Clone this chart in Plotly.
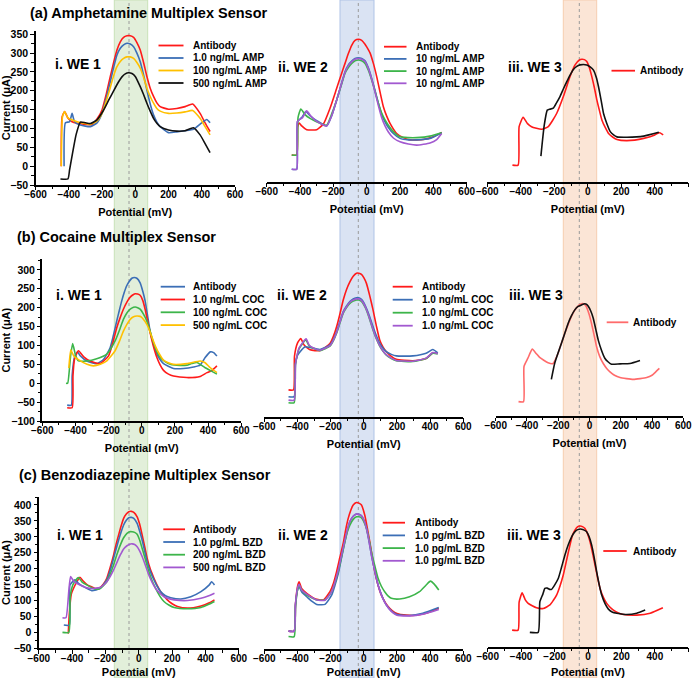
"""Multiplex sensor voltammograms (3 x 3 panels) - Plotly"""

import plotly.graph_objects as go

W, H = 697, 678

RED = "#FF1A1A"
LIGHT_RED = "#FF6B6B"
BLUE = "#3C6FB6"
YELLOW = "#FFC000"
GREEN = "#3DB54A"
PURPLE = "#A259D0"
BLACK = "#111111"

# ---------------- data (potential in mV, current in uA) ----------------
# (a) Amphetamine, WE 1
a1_ab_x = [-445, -440, -425, -405, -380, -350, -300, -260, -230, -200, -175, -150, -130, -110, -90, -70, -50, -30, -10, 10, 30, 50, 70, 90, 110, 130, 150, 200, 250, 300, 345, 390, 420, 450]
a1_ab_y = [0, 130, 145, 128, 118, 114, 111, 110, 125, 149, 190, 238, 275, 308, 330, 342, 346, 346, 342, 328, 308, 275, 238, 207, 185, 168, 158, 151, 153, 158, 165, 140, 115, 92]
a1_amp1_x = [-428, -420, -395, -380, -365, -330, -270, -230, -200, -175, -150, -130, -110, -90, -70, -50, -30, -10, 10, 30, 50, 70, 90, 110, 130, 150, 200, 250, 300, 350, 400, 430, 450]
a1_amp1_y = [0, 115, 118, 140, 118, 109, 105, 115, 140, 180, 224, 262, 295, 313, 322, 326, 324, 317, 300, 277, 242, 202, 165, 136, 117, 105, 89, 91, 94, 98, 115, 124, 115]
a1_amp100_x = [-445, -438, -425, -405, -350, -270, -230, -200, -175, -150, -130, -110, -90, -70, -50, -30, -10, 10, 30, 50, 70, 90, 110, 130, 150, 200, 250, 300, 345, 390, 420, 450]
a1_amp100_y = [0, 130, 145, 128, 118, 111, 120, 140, 172, 209, 240, 264, 278, 286, 290, 290, 286, 275, 260, 236, 207, 185, 167, 153, 146, 140, 141, 144, 148, 127, 105, 83]
a1_amp500_x = [-450, -405, -395, -375, -355, -330, -300, -270, -230, -190, -160, -130, -100, -80, -60, -40, -20, 0, 30, 50, 70, 90, 110, 130, 150, 200, 250, 300, 350, 390, 420, 450]
a1_amp500_y = [-34, -34, -10, 40, 85, 117, 115, 113, 123, 149, 175, 200, 224, 237, 245, 248, 246, 238, 211, 190, 167, 146, 127, 114, 105, 96, 93, 94, 102, 83, 60, 36]

# (a) Amphetamine, WE 2
a2_ab_x = [-450, -420, -414, -405, -390, -360, -300, -260, -220, -180, -150, -130, -110, -90, -70, -50, -30, -10, 0, 20, 40, 60, 80, 100, 120, 140, 180, 220, 260, 340, 400, 450]
a2_ab_y = [21, 21, 95, 106, 98, 88, 88, 103, 145, 198, 238, 264, 290, 312, 325, 328, 325, 315, 308, 292, 264, 229, 188, 149, 124, 105, 78, 67, 61, 62, 69, 81]
a2_amp_b_x = [-450, -420, -415, -390, -365, -340, -300, -240, -210, -180, -150, -130, -110, -90, -70, -50, -30, -10, 10, 30, 50, 70, 90, 110, 130, 160, 200, 250, 300, 380, 450]
a2_amp_b_y = [-17, -17, 110, 120, 136, 125, 112, 98, 125, 167, 212, 242, 260, 270, 277, 279, 277, 271, 252, 224, 192, 158, 128, 109, 94, 78, 65, 61, 61, 65, 80]
a2_amp_g_x = [-450, -420, -412, -395, -370, -340, -280, -240, -210, -180, -150, -130, -110, -90, -70, -50, -30, -10, 10, 30, 50, 70, 90, 110, 130, 160, 200, 250, 300, 380, 450]
a2_amp_g_y = [21, 21, 120, 143, 128, 118, 105, 100, 130, 167, 210, 238, 253, 264, 271, 273, 271, 264, 246, 220, 190, 158, 132, 114, 100, 83, 69, 67, 67, 71, 80]
a2_amp_p_x = [-450, -420, -415, -385, -360, -335, -300, -240, -210, -180, -150, -130, -110, -90, -70, -50, -30, -10, 10, 30, 50, 70, 90, 110, 130, 160, 200, 250, 300, 380, 420, 450]
a2_amp_p_y = [-17, -17, 110, 120, 138, 124, 110, 98, 125, 167, 212, 240, 258, 268, 275, 277, 275, 269, 250, 222, 188, 152, 120, 98, 82, 66, 56, 50, 47, 53, 62, 78]

# (a) Amphetamine, WE 3
a3_ab_x = [-450, -416, -410, -386, -360, -336, -276, -236, -186, -146, -106, -76, -50, -36, -20, -6, 10, 24, 40, 54, 70, 84, 104, 124, 150, 174, 234, 334, 400, 414, 430, 450]
a3_ab_y = [-6, -6, 96, 121, 104, 96, 89, 96, 131, 176, 229, 260, 273, 275, 274, 269, 252, 229, 198, 167, 138, 114, 94, 78, 68, 62, 59, 65, 74, 78, 80, 74]
a3_amp_x = [-280, -260, -242, -230, -206, -186, -166, -146, -126, -106, -86, -66, -46, -26, -6, 14, 34, 50, 64, 80, 94, 114, 134, 154, 174, 234, 334, 424]
a3_amp_y = [18, 100, 140, 142, 145, 160, 176, 196, 215, 233, 248, 256, 260, 261, 260, 255, 246, 228, 202, 165, 131, 104, 83, 74, 69, 68, 71, 81]

# (b) Cocaine, WE 1
b1_ab_x = [-450, -425, -420, -405, -388, -370, -332, -272, -231, -191, -171, -151, -136, -121, -106, -91, -75, -60, -45, -30, -10, 5, 20, 35, 50, 70, 91, 111, 131, 191, 252, 312, 352, 382, 413, 433, 453]
b1_ab_y = [-58, -58, 20, 70, 83, 72, 59, 52, 63, 94, 127, 165, 192, 218, 240, 258, 270, 278, 280, 278, 266, 245, 218, 178, 138, 103, 77, 62, 52, 39, 39, 43, 48, 68, 83, 81, 72]
b1_coc1_x = [-450, -420, -415, -405, -382, -350, -312, -252, -201, -176, -151, -131, -111, -90, -70, -50, -40, -25, -10, 5, 20, 35, 50, 70, 91, 111, 131, 161, 191, 272, 352, 393, 420, 453]
b1_coc1_y = [-65, -65, 20, 65, 86, 70, 59, 52, 72, 105, 147, 173, 196, 215, 228, 235, 237, 236, 233, 220, 196, 165, 134, 98, 68, 48, 34, 24, 19, 15, 18, 28, 33, 46]
b1_coc100_x = [-457, -447, -430, -417, -400, -382, -332, -272, -211, -161, -131, -111, -90, -70, -50, -40, -25, -10, 10, 30, 50, 70, 90, 111, 140, 171, 230, 272, 300, 332, 382, 420, 453]
b1_coc100_y = [0, 0, 70, 105, 75, 59, 59, 65, 77, 112, 145, 169, 186, 196, 201, 202, 200, 196, 183, 165, 138, 108, 85, 68, 57, 50, 47, 48, 52, 55, 41, 32, 24]
b1_coc500_x = [-440, -428, -410, -380, -330, -292, -250, -211, -161, -136, -111, -90, -70, -50, -30, -10, 0, 20, 40, 60, 81, 105, 131, 160, 191, 272, 352, 380, 413, 453]
b1_coc500_y = [40, 88, 72, 62, 50, 46, 50, 59, 86, 110, 138, 156, 169, 176, 178, 177, 174, 163, 147, 123, 99, 78, 61, 54, 50, 52, 59, 55, 41, 28]

# (b) Cocaine, WE 2
b2_ab_x = [-454, -424, -418, -400, -380, -360, -324, -264, -204, -184, -164, -144, -124, -104, -84, -64, -44, -30, -14, 0, 16, 36, 56, 76, 96, 116, 136, 166, 196, 296, 376, 416, 446]
b2_ab_y = [-29, -29, 60, 95, 107, 90, 77, 75, 94, 112, 138, 172, 209, 237, 257, 272, 280, 280, 277, 268, 253, 220, 182, 140, 103, 84, 72, 60, 52, 48, 54, 69, 68]
b2_coc_b_x = [-454, -420, -412, -400, -384, -354, -324, -264, -204, -184, -164, -144, -124, -104, -84, -64, -44, -30, -14, 0, 16, 36, 56, 76, 96, 116, 136, 166, 196, 296, 376, 416, 446]
b2_coc_b_y = [-47, -47, 40, 62, 72, 85, 83, 78, 90, 104, 125, 152, 178, 193, 205, 212, 215, 215, 211, 202, 187, 164, 138, 114, 94, 81, 72, 65, 61, 61, 68, 78, 69]
b2_coc_g_x = [-454, -420, -412, -390, -350, -330, -304, -264, -204, -184, -164, -144, -124, -104, -84, -64, -44, -30, -14, 0, 16, 36, 56, 76, 96, 116, 136, 166, 196, 296, 376, 416, 446]
b2_coc_g_y = [-63, -63, 40, 80, 103, 88, 81, 75, 87, 101, 121, 148, 174, 189, 200, 206, 209, 209, 205, 196, 182, 157, 129, 106, 87, 73, 63, 54, 48, 46, 54, 68, 66]
b2_coc_p_x = [-454, -420, -412, -390, -348, -330, -304, -264, -204, -184, -164, -144, -124, -104, -84, -64, -44, -30, -14, 0, 16, 36, 56, 76, 96, 116, 136, 166, 196, 296, 376, 416, 446]
b2_coc_p_y = [-56, -56, 40, 82, 106, 90, 82, 76, 88, 102, 123, 150, 176, 191, 203, 209, 212, 212, 208, 199, 184, 159, 131, 107, 88, 74, 64, 55, 49, 47, 55, 70, 67]

# (b) Cocaine, WE 3
b3_ab_x = [-454, -422, -419, -394, -366, -340, -319, -265, -233, -201, -180, -158, -137, -116, -95, -73, -58, -45, -30, -19, -3, 13, 30, 45, 65, 88, 110, 131, 160, 195, 280, 366, 400, 419, 447]
b3_ab_y = [-62, -62, 31, 53, 77, 65, 55, 41, 39, 66, 92, 119, 142, 163, 180, 191, 196, 198, 195, 188, 170, 145, 113, 84, 58, 39, 26, 17, 8, 2, -3, 2, 8, 15, 26]
b3_coc_x = [-244, -223, -200, -180, -158, -137, -116, -94, -73, -51, -30, -20, -9, 8, 24, 40, 56, 76, 98, 120, 141, 195, 259, 323]
b3_coc_y = [-3, 39, 68, 92, 119, 145, 165, 181, 190, 194, 197, 196, 191, 178, 159, 130, 101, 75, 53, 43, 37, 38, 39, 47]

# (c) Benzodiazepine, WE 1
c1_ab_x = [-423, -418, -405, -390, -370, -353, -335, -313, -262, -232, -212, -192, -171, -151, -136, -121, -106, -91, -75, -60, -45, -30, -10, 5, 20, 35, 50, 70, 91, 111, 131, 151, 171, 200, 232, 292, 373, 420, 454]
c1_ab_y = [-4, 50, 120, 140, 160, 173, 162, 151, 138, 141, 152, 170, 205, 243, 277, 306, 334, 358, 372, 379, 380, 377, 363, 340, 306, 270, 233, 197, 170, 147, 128, 114, 102, 90, 81, 76, 83, 92, 102]
c1_bzd1_x = [-450, -417, -413, -383, -360, -333, -282, -232, -192, -171, -151, -136, -121, -106, -91, -75, -60, -45, -30, -10, 5, 20, 35, 50, 70, 91, 111, 131, 160, 192, 252, 312, 373, 423, 437, 454]
c1_bzd1_y = [23, 23, 149, 165, 153, 144, 131, 138, 165, 195, 233, 262, 290, 315, 337, 352, 360, 361, 358, 342, 318, 290, 256, 222, 190, 165, 144, 128, 115, 109, 105, 112, 128, 149, 159, 149]
c1_bzd200_x = [-458, -420, -412, -395, -363, -340, -313, -262, -232, -192, -171, -151, -131, -111, -91, -71, -55, -40, -25, -10, 5, 20, 40, 60, 80, 101, 126, 151, 180, 212, 292, 373, 420, 454]
c1_bzd200_y = [0, 0, 110, 150, 172, 158, 149, 136, 138, 159, 183, 212, 245, 274, 297, 311, 316, 316, 314, 308, 290, 264, 228, 191, 162, 138, 114, 97, 86, 78, 74, 78, 88, 97]
c1_bzd500_x = [-458, -437, -420, -409, -390, -353, -292, -232, -192, -171, -151, -131, -111, -91, -71, -55, -40, -25, -10, 5, 20, 40, 60, 80, 101, 126, 151, 180, 212, 292, 373, 420, 454]
c1_bzd500_y = [46, 46, 130, 175, 160, 149, 138, 141, 159, 176, 196, 220, 243, 262, 272, 277, 278, 276, 269, 256, 238, 210, 180, 157, 138, 123, 112, 106, 102, 100, 107, 115, 123]

# (c) Benzodiazepine, WE 2
c2_ab_x = [-454, -420, -412, -398, -390, -375, -344, -284, -244, -204, -184, -164, -144, -124, -109, -94, -79, -64, -44, -30, -14, 6, 21, 36, 51, 66, 86, 106, 131, 156, 186, 216, 296, 376, 452]
c2_ab_y = [6, 6, 90, 150, 161, 140, 125, 106, 104, 130, 155, 193, 238, 282, 325, 360, 385, 402, 410, 408, 402, 370, 330, 287, 240, 193, 150, 119, 95, 78, 65, 59, 55, 62, 78]
c2_bzd_b_x = [-454, -420, -412, -398, -390, -375, -344, -314, -284, -234, -194, -174, -154, -134, -114, -99, -84, -64, -44, -30, -14, 0, 16, 31, 46, 66, 86, 111, 136, 166, 196, 276, 356, 452]
c2_bzd_b_y = [6, 6, 90, 138, 146, 130, 114, 100, 90, 90, 119, 150, 187, 237, 287, 322, 350, 367, 374, 373, 368, 355, 329, 290, 245, 196, 151, 115, 88, 70, 59, 55, 62, 80]
c2_bzd_g_x = [-454, -420, -412, -398, -390, -375, -344, -284, -234, -194, -174, -154, -134, -114, -99, -84, -64, -44, -30, -14, 0, 16, 31, 46, 66, 86, 106, 126, 146, 166, 216, 276, 336, 376, 402, 426, 452]
c2_bzd_g_y = [-11, -11, 80, 140, 151, 135, 119, 104, 104, 130, 158, 193, 240, 287, 318, 339, 357, 365, 365, 362, 350, 329, 295, 255, 212, 172, 147, 130, 117, 109, 107, 114, 130, 151, 163, 153, 135]
c2_bzd_p_x = [-454, -420, -412, -398, -390, -375, -344, -284, -234, -194, -174, -154, -134, -114, -99, -84, -64, -44, -30, -14, 0, 16, 31, 46, 66, 86, 111, 136, 166, 196, 276, 356, 452]
c2_bzd_p_y = [6, 6, 90, 145, 153, 135, 122, 104, 103, 130, 160, 198, 245, 292, 325, 350, 367, 374, 373, 368, 355, 329, 290, 245, 196, 151, 113, 88, 68, 57, 54, 59, 74]

# (c) Benzodiazepine, WE 3
c3_ab_x = [-454, -418, -412, -394, -376, -358, -308, -268, -228, -208, -188, -168, -148, -128, -108, -93, -78, -63, -48, -33, -18, -3, 12, 27, 42, 57, 72, 92, 112, 132, 152, 182, 212, 292, 372, 448]
c3_ab_y = [2, 2, 90, 119, 98, 86, 72, 70, 81, 95, 112, 140, 175, 222, 269, 300, 316, 326, 329, 327, 321, 305, 280, 245, 206, 168, 133, 105, 86, 74, 65, 56, 51, 49, 55, 72]
c3_bzd_x = [-348, -298, -288, -270, -258, -244, -230, -218, -198, -178, -158, -138, -118, -98, -83, -68, -53, -38, -23, -8, 7, 22, 37, 52, 67, 82, 102, 122, 147, 172, 232, 292, 342]
c3_bzd_y = [-5, -5, 91, 115, 133, 134, 130, 130, 145, 164, 200, 238, 270, 295, 308, 316, 319, 319, 316, 311, 295, 269, 230, 185, 145, 112, 85, 68, 58, 55, 51, 55, 65]

ROW_TITLES = ["(a) Amphetamine Multiplex Sensor", "(b) Cocaine Multiplex Sensor",
              "(c) Benzodiazepine Multiplex Sensor"]
WE_LABELS = ["i. WE 1", "ii. WE 2", "iii. WE 3"]

# panel -> list of (x, y, color, legend label or None)
PANELS = {
    "a1": [(a1_ab_x, a1_ab_y, RED, "Antibody"), (a1_amp1_x, a1_amp1_y, BLUE, "1.0 ng/mL AMP"),
           (a1_amp100_x, a1_amp100_y, YELLOW, "100 ng/mL AMP"), (a1_amp500_x, a1_amp500_y, BLACK, "500 ng/mL AMP")],
    "a2": [(a2_ab_x, a2_ab_y, RED, "Antibody"), (a2_amp_b_x, a2_amp_b_y, BLUE, "10 ng/mL AMP"),
           (a2_amp_g_x, a2_amp_g_y, GREEN, "10 ng/mL AMP"), (a2_amp_p_x, a2_amp_p_y, PURPLE, "10 ng/mL AMP")],
    "a3": [(a3_ab_x, a3_ab_y, RED, "Antibody"), (a3_amp_x, a3_amp_y, BLACK, None)],
    "b1": [(b1_ab_x, b1_ab_y, BLUE, "Antibody"), (b1_coc1_x, b1_coc1_y, RED, "1.0 ng/mL COC"),
           (b1_coc100_x, b1_coc100_y, GREEN, "100 ng/mL COC"), (b1_coc500_x, b1_coc500_y, YELLOW, "500 ng/mL COC")],
    "b2": [(b2_ab_x, b2_ab_y, RED, "Antibody"), (b2_coc_b_x, b2_coc_b_y, BLUE, "1.0 ng/mL COC"),
           (b2_coc_g_x, b2_coc_g_y, GREEN, "1.0 ng/mL COC"), (b2_coc_p_x, b2_coc_p_y, PURPLE, "1.0 ng/mL COC")],
    "b3": [(b3_ab_x, b3_ab_y, LIGHT_RED, "Antibody"), (b3_coc_x, b3_coc_y, BLACK, None)],
    "c1": [(c1_ab_x, c1_ab_y, RED, "Antibody"), (c1_bzd1_x, c1_bzd1_y, BLUE, "1.0 pg/mL BZD"),
           (c1_bzd200_x, c1_bzd200_y, GREEN, "200 ng/mL BZD"), (c1_bzd500_x, c1_bzd500_y, PURPLE, "500 ng/mL BZD")],
    "c2": [(c2_ab_x, c2_ab_y, RED, "Antibody"), (c2_bzd_b_x, c2_bzd_b_y, BLUE, "1.0 pg/mL BZD"),
           (c2_bzd_g_x, c2_bzd_g_y, GREEN, "1.0 pg/mL BZD"), (c2_bzd_p_x, c2_bzd_p_y, PURPLE, "1.0 pg/mL BZD")],
    "c3": [(c3_ab_x, c3_ab_y, RED, "Antibody"), (c3_bzd_x, c3_bzd_y, BLACK, None)],
}

# ---------------- layout geometry (pixels) ----------------
# name: (x px of -600, x px of +600, y px of axis line, y min, y max, px per uA)
GEOM = {
    "a1": (35.5, 235.0, 185.0, -50, 360, 0.3768),
    "a2": (266.7, 466.7, 181.7, -50, 360, 0.3768),
    "a3": (487.3, 688.3, 181.7, -50, 360, 0.3768),
    "b1": (42.3, 241.3, 421.0, -100, 328, 0.3777),
    "b2": (264.3, 463.3, 416.7, -100, 328, 0.3777),
    "b3": (495.7, 683.3, 416.0, -100, 328, 0.3777),
    "c1": (38.8, 238.8, 648.3, -50, 426, 0.3185),
    "c2": (264.3, 463.3, 649.0, -50, 426, 0.3185),
    "c3": (487.7, 688.3, 646.7, -50, 426, 0.3185),
}
# legend: line x0, line x1, text x, first row y, row step
LEGEND_POS = {
    "a1": (158.5, 183.5, 190.5, 45.5, 12.5), "a2": (384, 406.5, 414, 46.7, 12.2),
    "a3": (611.5, 635, 637.5, 70.7, 12.5),
    "b1": (160.7, 185, 191.5, 286.7, 12.8), "b2": (392.7, 412.7, 420, 286.7, 13.0),
    "b3": (606.7, 628.3, 630.5, 322.3, 12.5),
    "c1": (163.3, 185, 190.5, 529.3, 12.7), "c2": (382.7, 405, 412.5, 522.7, 12.7),
    "c3": (603.3, 626.7, 630.5, 551.0, 12.5),
}
WE_POS = {"a1": (53, 63.5), "a2": (276, 66.7), "a3": (506, 66.7),
          "b1": (54, 295), "b2": (275, 295), "b3": (506.5, 295),
          "c1": (55, 535), "c2": (276, 535), "c3": (505, 535)}
TITLE_POS = [(28, 13.3), (15, 237.3), (17, 475)]
BANDS = [(114.3, 147.7, 129.0, "#E2EFDA", "#C9E2B8"),
         (340.0, 374.0, 358.3, "#DAE3F3", "#AFC3E6"),
         (563.3, 596.7, 579.3, "#FBE5D6", "#F6CDB0")]

FONT = "Arial"


def px(x):
    return x / W


def py(y):
    return 1 - y / H


fig = go.Figure()
layout = {}
shapes = []
annotations = []

for i, (name, curves) in enumerate(PANELS.items()):
    n = i + 1
    xs = "" if n == 1 else str(n)
    x0, x1, ybot, ymin, ymax, scale = GEOM[name]
    ytop = ybot - (ymax - ymin) * scale
    first_col = name.endswith("1")

    for cx, cy, color, _ in curves:
        fig.add_trace(go.Scatter(
            x=cx, y=cy, mode="lines",
            line=dict(color=color, width=1.6, shape="spline", smoothing=0.5),
            xaxis="x" + xs, yaxis="y" + xs, showlegend=False, hoverinfo="skip",
        ))

    layout["xaxis" + xs] = dict(
        domain=[px(x0), px(x1)], anchor="y" + xs, range=[-600, 600],
        tickvals=[-600, -400, -200, 0, 200, 400, 600],
        showline=True, linecolor="black", linewidth=1.5, mirror=False,
        ticks="outside", ticklen=3.5, tickwidth=1.3, tickcolor="black",
        ticklabelstandoff=-4,
        minor=dict(tickvals=[-500, -300, -100, 100, 300, 500], ticks="outside",
                   ticklen=2.5, tickwidth=1, tickcolor="black"),
        tickfont=dict(family=FONT, size=10, color="black", weight="bold"),
        showgrid=False, zeroline=False, automargin=False,
        title=dict(text="Potential (mV)", standoff=9,
                   font=dict(family=FONT, size=11, color="black", weight="bold")),
    )
    ycfg = dict(
        domain=[py(ybot), py(ytop)], anchor="x" + xs, range=[ymin, ymax],
        showgrid=False, zeroline=False, automargin=False,
    )
    if first_col:
        ycfg.update(
            showline=True, linecolor="black", linewidth=1.5,
            ticks="outside", ticklen=3.5, tickwidth=1.3, tickcolor="black",
            dtick=50, tick0=0,
            minor=dict(dtick=25, ticks="outside", ticklen=2.5, tickwidth=1, tickcolor="black"),
            tickfont=dict(family=FONT, size=10.5, color="black", weight="bold"),
            title=dict(text="Current (μA)", standoff=3,
                       font=dict(family=FONT, size=11, color="black", weight="bold")),
        )
    else:
        ycfg.update(visible=False)
    layout["yaxis" + xs] = ycfg

    # legend drawn as small line samples + labels
    lx0, lx1, tx, ty0, step = LEGEND_POS[name]
    row = 0
    for _, _, color, label in curves:
        if label is None:
            continue
        yy = ty0 + row * step
        shapes.append(dict(type="line", xref="paper", yref="paper",
                           x0=px(lx0), x1=px(lx1), y0=py(yy), y1=py(yy),
                           line=dict(color=color, width=1.8)))
        annotations.append(dict(text="<b>" + label + "</b>", xref="paper", yref="paper",
                                x=px(tx), y=py(yy), xanchor="left", yanchor="middle",
                                showarrow=False, font=dict(family=FONT, size=10, color="black")))
        row += 1

    wx, wy = WE_POS[name]
    annotations.append(dict(text="<b>" + WE_LABELS[int(name[1]) - 1] + "</b>",
                            xref="paper", yref="paper", x=px(wx), y=py(wy),
                            xanchor="left", yanchor="middle", showarrow=False,
                            font=dict(family=FONT, size=14, color="black")))

for title, (tx, ty) in zip(ROW_TITLES, TITLE_POS):
    annotations.append(dict(text="<b>" + title + "</b>", xref="paper", yref="paper",
                            x=px(tx), y=py(ty), xanchor="left", yanchor="middle",
                            showarrow=False, font=dict(family=FONT, size=14.5, color="black")))

# highlighted potential windows spanning all rows
for bx0, bx1, bmid, fill, edge in BANDS:
    shapes.append(dict(type="rect", xref="paper", yref="paper", x0=px(bx0), x1=px(bx1),
                       y0=0, y1=1, fillcolor=fill, line=dict(color=edge, width=1), layer="below"))
    shapes.append(dict(type="line", xref="paper", yref="paper", x0=px(bmid), x1=px(bmid),
                       y0=0, y1=1, line=dict(color="#9A9A9A", width=1, dash="dot"), layer="below"))

fig.update_layout(
    **layout,
    shapes=shapes,
    annotations=annotations,
    width=W, height=H,
    margin=dict(l=0, r=0, t=0, b=0),
    paper_bgcolor="white",
    plot_bgcolor="rgba(0,0,0,0)",
    showlegend=False,
    font=dict(family=FONT, color="black"),
)

# the page body has a default 8px margin; remove it so the figure sits at the window origin
fig.write_html("out.html", config={"displayModeBar": False},
               post_script="document.body.style.margin='0px';")
